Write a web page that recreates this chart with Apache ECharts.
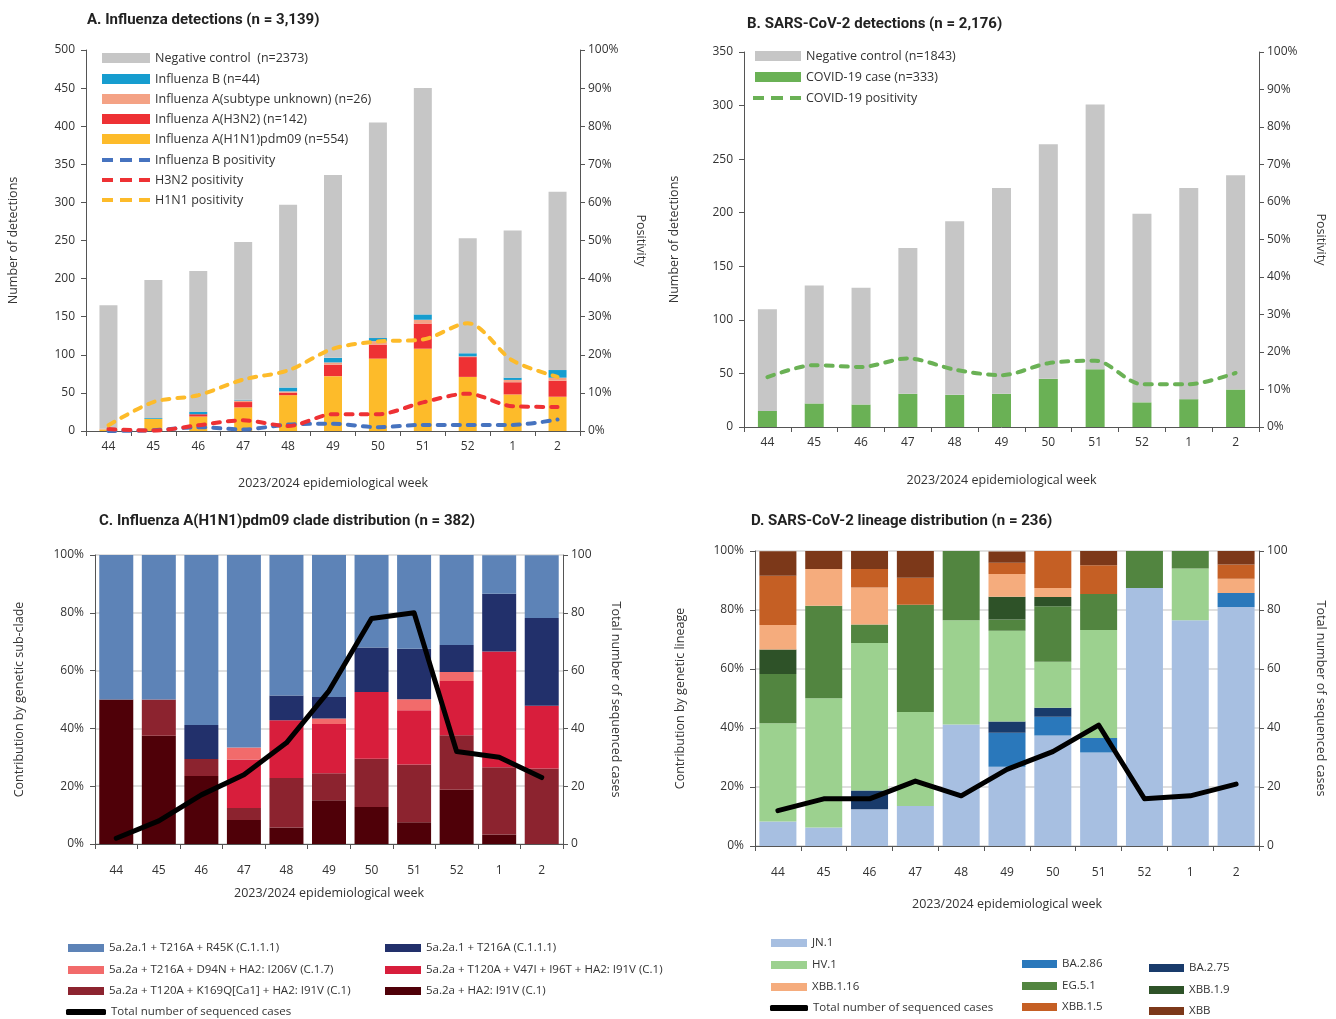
<!DOCTYPE html>
<html><head><meta charset="utf-8">
<script src="https://cdn.jsdelivr.net/npm/echarts@6/dist/echarts.min.js"></script>
<style>html,body{margin:0;padding:0;background:#fff}#c{width:1336px;height:1019px}</style>
</head><body><div id="c"></div>
<script>
// ---------- categories ----------
const weeks = ['44','45','46','47','48','49','50','51','52','1','2'];

// ---------- A. Influenza detections ----------
const fluNegative = [162,181,185,207,240,240,283,297,151,193,234];
const fluB        = [0,1,3,1,5,6,4,7,4,3,10];
const fluAUnknown = [1,0,0,2,2,3,5,5,1,3,4];
const fluH3N2     = [0,0,3,7,3,15,18,33,26,16,21];
const fluH1N1     = [2,16,19,31,47,72,95,108,71,48,45];
const posB        = [0,0.2,1.0,0.4,1.7,1.9,1.0,1.6,1.6,1.6,3.0];
const posH3N2     = [0.5,0.1,1.5,2.8,1.3,4.4,4.4,7.5,9.8,6.5,6.3];
const posH1N1     = [1.5,7.6,9.4,13.5,15.9,21.6,23.5,24.0,28.3,18.5,14.2];

// ---------- B. SARS-CoV-2 detections ----------
const covidNegative = [95,110,109,136,162,192,219,247,176,197,200];
const covidCases    = [15,22,21,31,30,31,45,54,23,26,35];
const covidPos      = [13.3,16.5,16.0,18.3,15.3,13.8,17.0,17.7,11.4,11.4,14.4];

// ---------- C. A(H1N1)pdm09 clades (% of sequenced) ----------
const cladeI91V   = [50,37.5,23.5,8.3,5.7,15.1,12.8,7.5,18.8,3.3,0];
const cladeK169Q  = [0,12.5,5.9,4.2,17.1,9.4,16.7,20,18.8,23.3,26.1];
const cladeV47I   = [0,0,0,16.7,20,17,23.1,18.8,18.8,40,21.7];
const cladeD94N   = [0,0,0,4.2,0,1.9,0,3.8,3.1,0,0];
const cladeT216A  = [0,0,11.8,0,8.6,7.5,15.4,17.5,9.4,20,30.4];
const cladeR45K   = [50,50,58.8,66.7,48.6,49.1,32.1,32.5,31.3,13.3,21.7];
const fluSequenced = [2,8,17,24,35,53,78,80,32,30,23];

// ---------- D. SARS-CoV-2 lineages (% of sequenced) ----------
const linJN1    = [8.3,6.3,12.5,13.6,41.2,26.9,37.5,31.7,87.5,76.5,81.0];
const linBA286  = [0,0,0,0,0,11.5,6.3,4.9,0,0,4.8];
const linBA275  = [0,0,6.3,0,0,3.8,3.1,0,0,0,0];
const linHV1    = [33.3,43.8,50.0,31.8,35.3,30.8,15.6,36.6,0,17.6,0];
const linEG51   = [16.7,31.3,6.3,36.4,23.5,3.8,18.8,12.2,12.5,5.9,0];
const linXBB19  = [8.3,0,0,0,0,7.7,3.1,0,0,0,0];
const linXBB116 = [8.3,12.5,12.5,0,0,7.7,3.1,0,0,0,4.8];
const linXBB15  = [16.7,0,6.3,9.1,0,3.8,12.5,9.8,0,0,4.8];
const linXBB    = [8.3,6.3,6.3,9.1,0,3.8,0,4.9,0,0,4.8];
const covSequenced = [12,16,16,22,17,26,32,41,16,17,21];

// ---------- styling ----------
const FONT = "'Open Sans', 'Noto Sans', sans-serif";
const TFONT = "'Liberation Sans Narrow', 'Roboto', sans-serif";
const AX = '#555';
const TXT = '#333';
const DASH_ICON = 'path://M0,0h11v4h-11z M18,0h12v4h-12z M37,0h11v4h-11z';

function catAxis(grid, labelMargin, nameGap) {
  return {
    type: 'category', gridIndex: grid, data: weeks,
    name: '2023/2024 epidemiological week', nameLocation: 'middle', nameGap: nameGap,
    nameTextStyle: {fontFamily: FONT, fontSize: 12.5, color: TXT},
    axisLine: {lineStyle: {color: AX}},
    axisTick: {show: true, alignWithLabel: false, length: 5, lineStyle: {color: AX}},
    axisLabel: {fontFamily: FONT, fontSize: 12, color: TXT, margin: labelMargin}
  };
}
function valAxis(grid, pos, max, interval, fmt, name, gap, rot, split) {
  return {
    type: 'value', gridIndex: grid, position: pos, min: 0, max: max, interval: interval,
    name: name, nameLocation: 'middle', nameGap: gap, nameRotate: rot,
    nameTextStyle: {fontFamily: FONT, fontSize: 12.5, color: TXT},
    axisLine: {show: true, lineStyle: {color: AX}},
    axisTick: {show: true, length: 5, lineStyle: {color: AX}},
    axisLabel: {fontFamily: FONT, fontSize: 12, color: TXT, formatter: fmt, margin: pos === 'left' ? 11 : 8},
    splitLine: split ? {show: true, lineStyle: {color: '#D6D6D6', width: 1.5}} : {show: false}
  };
}
function bar(name, data, color, stack, xi, yi, w) {
  return {name, type: 'bar', stack, xAxisIndex: xi, yAxisIndex: yi, data, barWidth: w,
    itemStyle: {color}, emphasis: {disabled: true}, animation: false};
}
function dline(name, data, color, xi, yi) {
  return {name, type: 'line', xAxisIndex: xi, yAxisIndex: yi, data, symbol: 'none', smooth: 0.3,
    lineStyle: {color, width: 4, type: [7, 8], cap: 'round'}, itemStyle: {color}, z: 5, animation: false};
}
function tline(name, data, xi, yi) {
  return {name, type: 'line', xAxisIndex: xi, yAxisIndex: yi, data, symbol: 'none',
    lineStyle: {color: '#000', width: 5, cap: 'round', join: 'round'}, itemStyle: {color: '#000'}, z: 6, animation: false};
}
// one legend per entry so every item sits exactly where the reference puts it
function li(name, left, cy, iw, ih, fs, lh, icon) {
  return {left, top: cy - Math.max(ih, lh) / 2, padding: 0, orient: 'vertical',
    itemWidth: iw, itemHeight: ih, icon, data: [name], selectedMode: false,
    textStyle: {fontFamily: FONT, fontSize: fs, color: TXT, lineHeight: lh}};
}

const TOTAL = 'Total number of sequenced cases';
const cC = ['5a.2a.1 + T216A + R45K (C.1.1.1)', '5a.2a + T216A + D94N + HA2: I206V (C.1.7)',
  '5a.2a + T120A + K169Q[Ca1] + HA2: I91V (C.1)', '5a.2a.1 + T216A (C.1.1.1)',
  '5a.2a + T120A + V47I + I96T + HA2: I91V (C.1)', '5a.2a + HA2: I91V (C.1)'];

const option = {
  animation: false,
  title: [
    {text: 'A. Influenza detections (n = 3,139)', left: 82, top: 8},
    {text: 'B. SARS-CoV-2 detections (n = 2,176)', left: 742, top: 12},
    {text: 'C. Influenza A(H1N1)pdm09 clade distribution (n = 382)', left: 94, top: 509},
    {text: 'D. SARS-CoV-2 lineage distribution (n = 236)', left: 746, top: 509}
  ].map(t => Object.assign(t, {textStyle: {fontFamily: TFONT, fontSize: 15, fontWeight: 'bold', color: '#222'}})),
  grid: [
    {left: 86, top: 50, width: 494, height: 381},
    {left: 744, top: 52, width: 515, height: 375},
    {left: 95, top: 555, width: 468, height: 289},
    {left: 755, top: 551, width: 504, height: 295}
  ],
  xAxis: [catAxis(0, 10, 46), catAxis(1, 10, 47), catAxis(2, 21, 43), catAxis(3, 21, 52)],
  yAxis: [
    valAxis(0, 'left', 500, 50, '{value}', 'Number of detections', 66, 90, false),
    valAxis(0, 'right', 100, 10, '{value}%', 'Positivity', 54, -90, false),
    valAxis(1, 'left', 350, 50, '{value}', 'Number of detections', 63, 90, false),
    valAxis(1, 'right', 100, 10, '{value}%', 'Positivity', 55, -90, false),
    valAxis(2, 'left', 100, 20, '{value}%', 'Contribution by genetic sub-clade', 69, 90, true),
    valAxis(2, 'right', 100, 20, '{value}', TOTAL, 46, -90, false),
    valAxis(3, 'left', 100, 20, '{value}%', 'Contribution by genetic lineage', 68, 90, true),
    valAxis(3, 'right', 100, 20, '{value}', TOTAL, 55, -90, false)
  ],
  legend: [
    // A
    li('Negative control  (n=2373)', 102, 58, 48, 10, 12.5, 14, 'rect'),
    li('Influenza B (n=44)', 102, 79, 48, 10, 12.5, 14, 'rect'),
    li('Influenza A(subtype unknown) (n=26)', 102, 99, 48, 10, 12.5, 14, 'rect'),
    li('Influenza A(H3N2) (n=142)', 102, 119, 48, 10, 12.5, 14, 'rect'),
    li('Influenza A(H1N1)pdm09 (n=554)', 102, 139, 48, 10, 12.5, 14, 'rect'),
    li('Influenza B positivity', 102, 160, 48, 4, 12.5, 14, DASH_ICON),
    li('H3N2 positivity', 102, 180, 48, 4, 12.5, 14, DASH_ICON),
    li('H1N1 positivity', 102, 200, 48, 4, 12.5, 14, DASH_ICON),
    // B
    li('Negative control (n=1843)', 755, 56, 46, 10, 12.5, 14, 'rect'),
    li('COVID-19 case (n=333)', 755, 77, 46, 10, 12.5, 14, 'rect'),
    li('COVID-19 positivity', 753, 98, 48, 4, 12.5, 14, DASH_ICON),
    // C
    li(cC[0], 68, 948, 36, 8, 11.5, 13, 'rect'),
    li(cC[1], 68, 970, 36, 8, 11.5, 13, 'rect'),
    li(cC[2], 68, 991, 36, 8, 11.5, 13, 'rect'),
    li(cC[3], 385, 948, 36, 8, 11.5, 13, 'rect'),
    li(cC[4], 385, 970, 36, 8, 11.5, 13, 'rect'),
    li(cC[5], 385, 991, 36, 8, 11.5, 13, 'rect'),
    li(TOTAL, 66, 1012, 40, 6, 11.5, 13, 'roundRect'),
    // D
    li('JN.1', 771, 943, 36, 8, 11.5, 13, 'rect'),
    li('HV.1', 771, 965, 36, 8, 11.5, 13, 'rect'),
    li('XBB.1.16', 771, 987, 36, 8, 11.5, 13, 'rect'),
    li(TOTAL, 770, 1008, 38, 6, 11.5, 13, 'roundRect'),
    li('BA.2.86', 1022, 964, 35, 8, 11.5, 13, 'rect'),
    li('EG.5.1', 1022, 986, 35, 8, 11.5, 13, 'rect'),
    li('XBB.1.5', 1022, 1007, 35, 8, 11.5, 13, 'rect'),
    li('BA.2.75', 1149, 968, 35, 8, 11.5, 13, 'rect'),
    li('XBB.1.9', 1149, 990, 35, 8, 11.5, 13, 'rect'),
    li('XBB', 1149, 1011, 35, 8, 11.5, 13, 'rect')
  ],
  series: [
    // A
    bar('Influenza A(H1N1)pdm09 (n=554)', fluH1N1, '#FDBB2A', 'A', 0, 0, 18),
    bar('Influenza A(H3N2) (n=142)', fluH3N2, '#EE3134', 'A', 0, 0, 18),
    bar('Influenza A(subtype unknown) (n=26)', fluAUnknown, '#F4A285', 'A', 0, 0, 18),
    bar('Influenza B (n=44)', fluB, '#169DCF', 'A', 0, 0, 18),
    bar('Negative control  (n=2373)', fluNegative, '#C6C6C6', 'A', 0, 0, 18),
    dline('Influenza B positivity', posB, '#4673BF', 0, 1),
    dline('H3N2 positivity', posH3N2, '#EE3134', 0, 1),
    dline('H1N1 positivity', posH1N1, '#FDBB2A', 0, 1),
    // B
    bar('COVID-19 case (n=333)', covidCases, '#6AB155', 'B', 1, 2, 19),
    bar('Negative control (n=1843)', covidNegative, '#C6C6C6', 'B', 1, 2, 19),
    dline('COVID-19 positivity', covidPos, '#6AB155', 1, 3),
    // C
    bar(cC[5], cladeI91V, '#4F0008', 'C', 2, 4, 34),
    bar(cC[2], cladeK169Q, '#8C232F', 'C', 2, 4, 34),
    bar(cC[4], cladeV47I, '#D81E3C', 'C', 2, 4, 34),
    bar(cC[1], cladeD94N, '#F26B6B', 'C', 2, 4, 34),
    bar(cC[3], cladeT216A, '#22306B', 'C', 2, 4, 34),
    bar(cC[0], cladeR45K, '#5D83B7', 'C', 2, 4, 34),
    tline(TOTAL, fluSequenced, 2, 5),
    // D
    bar('JN.1', linJN1, '#A7BFE1', 'D', 3, 6, 37),
    bar('BA.2.86', linBA286, '#2A78BB', 'D', 3, 6, 37),
    bar('BA.2.75', linBA275, '#193B6B', 'D', 3, 6, 37),
    bar('HV.1', linHV1, '#9CD18F', 'D', 3, 6, 37),
    bar('EG.5.1', linEG51, '#528540', 'D', 3, 6, 37),
    bar('XBB.1.9', linXBB19, '#2E5228', 'D', 3, 6, 37),
    bar('XBB.1.16', linXBB116, '#F5AC7D', 'D', 3, 6, 37),
    bar('XBB.1.5', linXBB15, '#C55F24', 'D', 3, 6, 37),
    bar('XBB', linXBB, '#7C3819', 'D', 3, 6, 37),
    tline(TOTAL, covSequenced, 3, 7)
  ]
};
const chart = echarts.init(document.getElementById('c'), null, {renderer: 'canvas'});
chart.setOption(option);
</script></body></html>
